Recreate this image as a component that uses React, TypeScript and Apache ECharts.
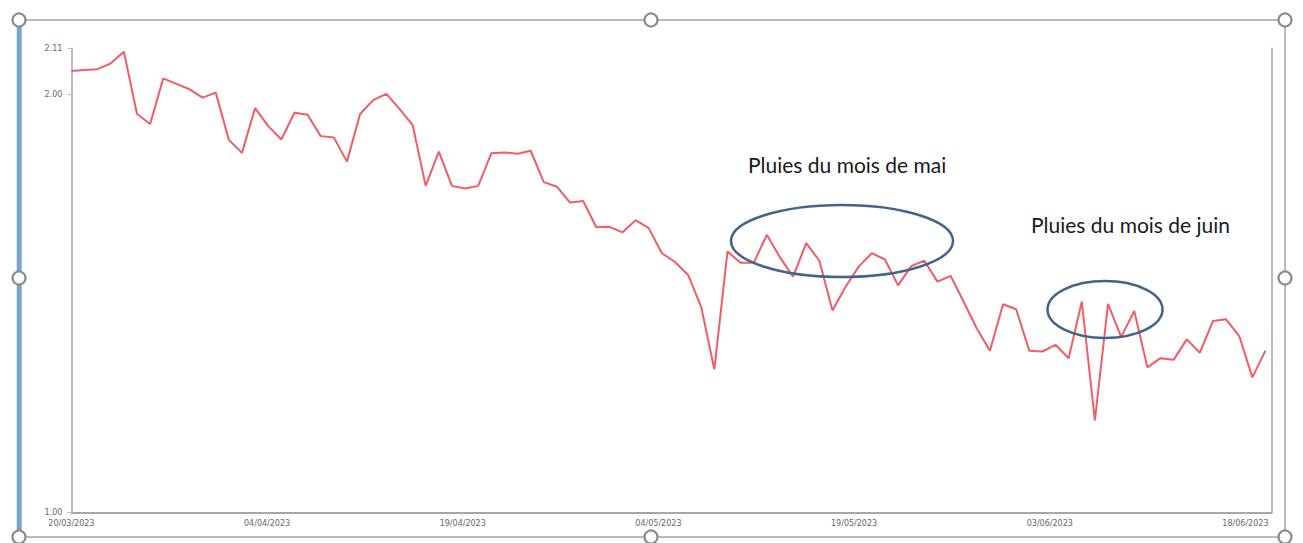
import React, { useEffect, useRef } from "react";
import * as echarts from "echarts";

// Axis categories (20/03/2023 -> 20/06/2023)
const dates = [
  "20/03/2023", "21/03/2023", "22/03/2023", "23/03/2023", "24/03/2023", "25/03/2023",
  "26/03/2023", "27/03/2023", "28/03/2023", "29/03/2023", "30/03/2023", "31/03/2023",
  "01/04/2023", "02/04/2023", "03/04/2023", "04/04/2023", "05/04/2023", "06/04/2023",
  "07/04/2023", "08/04/2023", "09/04/2023", "10/04/2023", "11/04/2023", "12/04/2023",
  "13/04/2023", "14/04/2023", "15/04/2023", "16/04/2023", "17/04/2023", "18/04/2023",
  "19/04/2023", "20/04/2023", "21/04/2023", "22/04/2023", "23/04/2023", "24/04/2023",
  "25/04/2023", "26/04/2023", "27/04/2023", "28/04/2023", "29/04/2023", "30/04/2023",
  "01/05/2023", "02/05/2023", "03/05/2023", "04/05/2023", "05/05/2023", "06/05/2023",
  "07/05/2023", "08/05/2023", "09/05/2023", "10/05/2023", "11/05/2023", "12/05/2023",
  "13/05/2023", "14/05/2023", "15/05/2023", "16/05/2023", "17/05/2023", "18/05/2023",
  "19/05/2023", "20/05/2023", "21/05/2023", "22/05/2023", "23/05/2023", "24/05/2023",
  "25/05/2023", "26/05/2023", "27/05/2023", "28/05/2023", "29/05/2023", "30/05/2023",
  "31/05/2023", "01/06/2023", "02/06/2023", "03/06/2023", "04/06/2023", "05/06/2023",
  "06/06/2023", "07/06/2023", "08/06/2023", "09/06/2023", "10/06/2023", "11/06/2023",
  "12/06/2023", "13/06/2023", "14/06/2023", "15/06/2023", "16/06/2023", "17/06/2023",
  "18/06/2023", "19/06/2023", "20/06/2023",
];

// One value per day, 20/03/2023 -> 19/06/2023
const values = [
  2.056, 2.058, 2.06, 2.074, 2.102, 1.953, 1.929, 2.038, 2.025, 2.012,
  1.992, 2.004, 1.891, 1.86, 1.967, 1.924, 1.892, 1.956, 1.951, 1.9,
  1.897, 1.839, 1.953, 1.986, 2.001, 1.965, 1.927, 1.781, 1.863, 1.781,
  1.775, 1.781, 1.859, 1.861, 1.858, 1.865, 1.79, 1.779, 1.741, 1.745,
  1.682, 1.683, 1.67, 1.699, 1.68, 1.62, 1.599, 1.568, 1.491, 1.342,
  1.624, 1.597, 1.597, 1.664, 1.61, 1.564, 1.644, 1.602, 1.483, 1.54,
  1.588, 1.62, 1.605, 1.543, 1.589, 1.602, 1.552, 1.566, 1.504, 1.44,
  1.387, 1.498, 1.486, 1.387, 1.385, 1.401, 1.369, 1.504, 1.22, 1.499,
  1.42, 1.482, 1.347, 1.369, 1.365, 1.414, 1.382, 1.458, 1.462, 1.422,
  1.323, 1.387,
];

const yTickValues = [1, 2, 2.11];

const annotations = ["Pluies du mois de mai", "Pluies du mois de juin"];

function parseDate(s: string): number {
  const [d, m, y] = s.split("/").map(Number);
  return Date.UTC(y, m - 1, d);
}

export default function App() {
  const ref = useRef<HTMLDivElement>(null);

  useEffect(() => {
    document.body.style.margin = "0";
    const chart = echarts.init(ref.current!, null, { renderer: "svg" });

    const frameColor = "#a3a3a3";
    const handlePts = [
      [19, 20], [651, 20], [1285, 20],
      [19, 278], [1285, 278],
      [19, 537], [651, 537], [1285, 537],
    ];

    const seriesData = values.map((v, i) => [parseDate(dates[i]), v]);
    const tMin = parseDate(dates[0]);
    const tMax = parseDate(dates[values.length - 1]) + 11 * 3600 * 1000;

    const graphic: any[] = [
      { type: "line", shape: { x1: 19, y1: 20, x2: 1285, y2: 20 }, style: { stroke: frameColor, lineWidth: 1.5 }, z: 50 },
      { type: "line", shape: { x1: 19, y1: 537, x2: 1285, y2: 537 }, style: { stroke: frameColor, lineWidth: 1.5 }, z: 50 },
      { type: "line", shape: { x1: 1285, y1: 20, x2: 1285, y2: 537 }, style: { stroke: frameColor, lineWidth: 1.5 }, z: 50 },
      { type: "rect", shape: { x: 16.7, y: 20, width: 5, height: 517 }, style: { fill: "#7ba3c7" }, z: 51 },
      {
        type: "ellipse",
        shape: { cx: 842, cy: 241, rx: 111, ry: 36 },
        style: { fill: "none", stroke: "#41658a", lineWidth: 2.5 },
        z: 60,
      },
      {
        type: "ellipse",
        shape: { cx: 1105, cy: 309.5, rx: 57.5, ry: 28.5 },
        style: { fill: "none", stroke: "#41658a", lineWidth: 2.5 },
        z: 60,
      },
      {
        type: "text",
        x: 748,
        y: 164,
        style: {
          text: annotations[0],
          fill: "#1a1a1a",
          font: "21px Lato",
          textVerticalAlign: "middle",
        },
        z: 60,
      },
      {
        type: "text",
        x: 1031,
        y: 224,
        style: {
          text: annotations[1],
          fill: "#1a1a1a",
          font: "21px Lato",
          textVerticalAlign: "middle",
        },
        z: 60,
      },
      ...handlePts.map(([cx, cy]) => ({
        type: "circle",
        shape: { cx, cy, r: 6.5 },
        style: { fill: "#ffffff", stroke: "#8c8c8c", lineWidth: 2.2 },
        z: 70,
      })),
    ];

    chart.setOption({
      animation: false,
      backgroundColor: "#ffffff",
      grid: { left: 71.4, right: 31.5, top: 48.3, bottom: 30.5, containLabel: false },
      xAxis: [
        {
          type: "category",
          data: dates,
          boundaryGap: false,
          axisLine: { show: true, lineStyle: { color: "#a6a6a6", width: 2 } },
          axisTick: { show: true, interval: 14, length: 3, lineStyle: { color: "#cccccc" } },
          axisLabel: {
            interval: 14,
            color: "#666666",
            fontSize: 8,
            fontFamily: "DejaVu Sans",
            margin: 7,
          },
          splitLine: { show: false },
        },
        {
          type: "time",
          min: tMin,
          max: tMax,
          show: false,
          splitLine: { show: false },
        },
      ],
      yAxis: [
        {
          type: "value",
          min: 1,
          max: 2.11,
          axisLine: { show: true, lineStyle: { color: "#a6a6a6", width: 1.5 } },
          axisTick: { show: true, customValues: yTickValues, length: 4, lineStyle: { color: "#bbbbbb" } },
          axisLabel: {
            customValues: yTickValues,
            formatter: (v: number) => v.toFixed(2),
            color: "#666666",
            fontSize: 8,
            fontFamily: "DejaVu Sans",
            margin: 9,
          },
          splitLine: { show: false },
        },
        {
          type: "value",
          min: 1,
          max: 2.11,
          position: "right",
          axisLine: { show: true, lineStyle: { color: "#a6a6a6", width: 1.5 } },
          axisTick: { show: false },
          axisLabel: { show: false },
          splitLine: { show: false },
        },
      ],
      series: [
        {
          type: "line",
          xAxisIndex: 1,
          yAxisIndex: 0,
          data: seriesData,
          symbol: "none",
          lineStyle: { color: "#f25c64", width: 2 },
        },
      ],
      graphic,
    });

    return () => chart.dispose();
  }, []);

  return (
    <div
      ref={ref}
      style={{ position: "fixed", left: 0, top: 0, width: 1303, height: 543 }}
    />
  );
}
